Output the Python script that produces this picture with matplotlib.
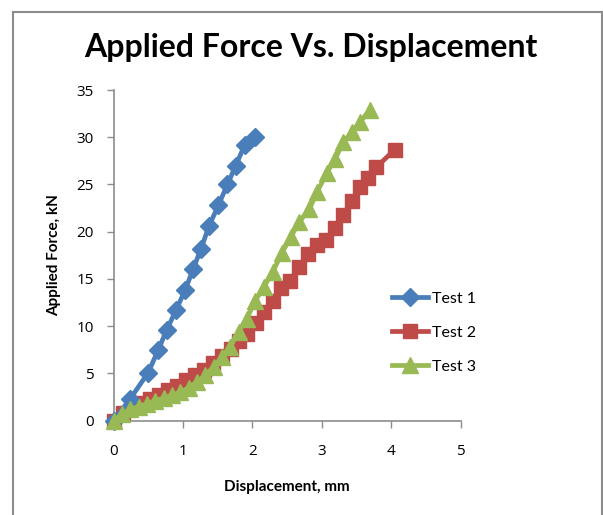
import matplotlib
matplotlib.use("Agg")
import matplotlib.pyplot as plt
from matplotlib.lines import Line2D

# Data
test1_x = [0, 0.24, 0.50, 0.645, 0.766, 0.90, 1.03, 1.15, 1.26, 1.375, 1.51, 1.64, 1.76, 1.89, 2.04]
test1_y = [0, 2.3, 5.1, 7.5, 9.6, 11.7, 13.8, 16.1, 18.2, 20.6, 22.8, 25.0, 27.0, 29.2, 30.0]

test2_x = [0, 0.13, 0.26, 0.39, 0.52, 0.65, 0.78, 0.91, 1.04, 1.17, 1.30, 1.43, 1.56, 1.69, 1.80,
           1.92, 2.05, 2.16, 2.29, 2.41, 2.54, 2.67, 2.80, 2.925, 3.06, 3.19, 3.31, 3.43, 3.55,
           3.67, 3.78, 4.05]
test2_y = [0, 0.8, 1.4, 1.9, 2.3, 2.7, 3.2, 3.7, 4.3, 4.8, 5.4, 6.1, 6.8, 7.6, 8.4,
           9.2, 10.3, 11.5, 12.7, 14.0, 14.8, 16.3, 17.6, 18.6, 19.1, 20.4, 21.8, 23.3, 24.7,
           25.7, 26.8, 28.7]

test3_x = [0, 0.12, 0.24, 0.36, 0.48, 0.60, 0.72, 0.84, 0.96, 1.08, 1.20, 1.32, 1.44, 1.56, 1.68,
           1.80, 1.92, 2.04, 2.16, 2.29, 2.42, 2.55, 2.67, 2.82, 2.93, 3.07, 3.19, 3.31, 3.44,
           3.55, 3.69]
test3_y = [0, 0.7, 1.2, 1.5, 1.8, 2.1, 2.4, 2.7, 3.0, 3.5, 4.1, 4.8, 5.7, 6.7, 7.8,
           9.4, 10.8, 12.7, 14.1, 15.7, 17.7, 19.4, 21.0, 22.4, 24.2, 26.2, 27.7, 29.5, 30.6,
           31.6, 32.9]

series_names = ["Test 1", "Test 2", "Test 3"]
x_ticks = [0, 1, 2, 3, 4, 5]
y_ticks = [0, 5, 10, 15, 20, 25, 30, 35]

FONT = ["Lato", "DejaVu Sans"]
plt.rcParams['font.family'] = FONT

fig = plt.figure(figsize=(6.03, 5.15), dpi=100)
ax = fig.add_axes([113.5/603, 1-420.7/515, (460.8-113.5)/603, (420.7-90)/515])

c1, c2, c3 = "#4A7EBB", "#BE4B48", "#98B954"
ax.plot(test1_x, test1_y, color=c1, lw=3.4, marker="D", ms=9.5, label=series_names[0], zorder=3, clip_on=False)
ax.plot(test2_x, test2_y, color=c2, lw=3.4, marker="s", ms=10, label=series_names[1], zorder=2, clip_on=False)
ax.plot(test3_x, test3_y, color=c3, lw=3.4, marker="^", ms=11, label=series_names[2], zorder=4, clip_on=False)

ax.set_xlim(0, 5)
ax.set_ylim(0, 35)
ax.set_xticks(x_ticks)
ax.set_yticks(y_ticks)
ax.tick_params(axis="both", direction="out", length=5, width=1, color="#8C8C8C",
               labelsize=11, labelcolor="#000000")
ax.tick_params(axis="x", pad=12)
ax.tick_params(axis="y", pad=9)
for s in ["top", "right"]:
    ax.spines[s].set_visible(False)
for s in ["left", "bottom"]:
    ax.spines[s].set_color("#8C8C8C")
    ax.spines[s].set_linewidth(1.2)

for lab in ax.get_xticklabels() + ax.get_yticklabels():
    lab.set_fontfamily(["Open Sans", "DejaVu Sans"])

ax.set_xlabel("Displacement, mm", fontsize=11, fontweight="bold", labelpad=15)
ax.set_ylabel("Applied Force, kN", fontsize=11, fontweight="bold", labelpad=11)

fig.text(0.515, 1-47/515, "Applied Force Vs. Displacement", fontsize=23, fontweight="bold",
         ha="center", va="center")

leg = fig.legend(loc="upper left", bbox_to_anchor=(378/603, 1-277/515), frameon=False,
                 fontsize=11.5, handlelength=2.2, labelspacing=1.25, handletextpad=0.3)

# chart border
fig.add_artist(Line2D([13/603, 13/603], [0, 1-12/515], transform=fig.transFigure, color="#8C8C8C", lw=1.5))
fig.add_artist(Line2D([13/603, 601.5/603], [1-12/515, 1-12/515], transform=fig.transFigure, color="#8C8C8C", lw=1.5))
fig.add_artist(Line2D([601.5/603, 601.5/603], [0, 1-12/515], transform=fig.transFigure, color="#8C8C8C", lw=1.5))

fig.savefig("out.png", dpi=100)
